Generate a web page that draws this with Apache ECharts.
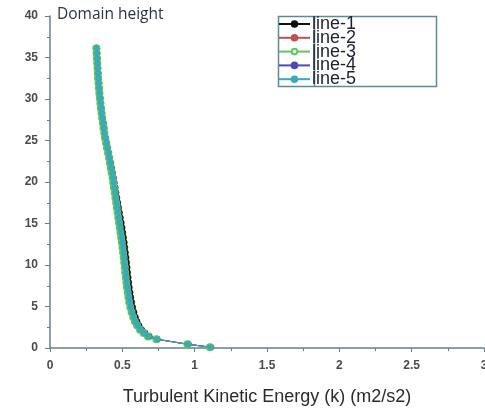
<!DOCTYPE html>
<html>
<head>
<meta charset="utf-8">
<script src="https://cdn.jsdelivr.net/npm/echarts@6/dist/echarts.min.js"></script>
<style>
html,body{margin:0;padding:0;background:#fff;}
#c{width:485px;height:408px;}
</style>
</head>
<body>
<div id="c"></div>
<script>
const seriesNames = ['line-1', 'line-2', 'line-3', 'line-4', 'line-5'];
const xTicks = ['0', '0.5', '1', '1.5', '2', '2.5', '3'];
const yTicks = ['0', '5', '10', '15', '20', '25', '30', '35', '40'];

const heights = [
  0.1, 0.45, 1.05, 1.4, 1.8, 2.2, 2.7, 3.2, 3.7, 4.3,
  4.9, 5.5, 6.1, 6.7, 7.3, 7.9, 8.5, 9.1, 9.7, 10.3,
  10.9, 11.5, 12.1, 12.7, 13.3, 13.9, 14.5, 15.1, 15.7, 16.3,
  16.9, 17.5, 18.1, 18.7, 19.3, 19.9, 20.5, 21.1, 21.7, 22.3,
  22.9, 23.5, 24.1, 24.7, 25.3, 25.9, 26.5, 27.1, 27.7, 28.3,
  28.9, 29.5, 30.1, 30.7, 31.3, 31.9, 32.5, 33.1, 33.7, 34.3,
  34.9, 35.5, 36.1
];

const line1 = [
  1.11, 0.955, 0.74, 0.685, 0.655, 0.632, 0.614, 0.600, 0.589, 0.579,
  0.570, 0.563, 0.557, 0.552, 0.547, 0.543, 0.539, 0.535, 0.532, 0.528,
  0.524, 0.520, 0.516, 0.512, 0.507, 0.502, 0.497, 0.491, 0.485, 0.479,
  0.473, 0.467, 0.461, 0.455, 0.449, 0.443, 0.437, 0.431, 0.425, 0.419,
  0.412, 0.405, 0.398, 0.391, 0.384, 0.378, 0.373, 0.368, 0.363, 0.358,
  0.354, 0.350, 0.346, 0.343, 0.340, 0.337, 0.334, 0.332, 0.330, 0.328,
  0.326, 0.324, 0.322
];
const line2 = [
  1.10, 0.952, 0.738, 0.679, 0.649, 0.624, 0.604, 0.589, 0.577, 0.566,
  0.557, 0.550, 0.544, 0.539, 0.534, 0.530, 0.526, 0.522, 0.519, 0.515,
  0.511, 0.507, 0.503, 0.499, 0.494, 0.489, 0.484, 0.479, 0.474, 0.469,
  0.464, 0.459, 0.454, 0.449, 0.444, 0.439, 0.434, 0.428, 0.422, 0.416,
  0.410, 0.403, 0.396, 0.389, 0.382, 0.376, 0.371, 0.366, 0.361, 0.357,
  0.353, 0.349, 0.345, 0.342, 0.339, 0.336, 0.333, 0.331, 0.329, 0.327,
  0.325, 0.323, 0.321
];
const line3 = [
  1.105, 0.950, 0.735, 0.677, 0.647, 0.622, 0.602, 0.587, 0.575, 0.564,
  0.555, 0.548, 0.542, 0.537, 0.532, 0.528, 0.524, 0.520, 0.517, 0.513,
  0.509, 0.505, 0.501, 0.497, 0.492, 0.487, 0.482, 0.477, 0.472, 0.467,
  0.462, 0.457, 0.452, 0.447, 0.442, 0.437, 0.432, 0.426, 0.420, 0.414,
  0.408, 0.401, 0.394, 0.387, 0.380, 0.375, 0.370, 0.365, 0.360, 0.356,
  0.352, 0.348, 0.344, 0.341, 0.338, 0.335, 0.332, 0.330, 0.328, 0.326,
  0.324, 0.322, 0.320
];
const line4 = [
  1.108, 0.953, 0.739, 0.680, 0.650, 0.625, 0.605, 0.590, 0.578, 0.567,
  0.558, 0.551, 0.545, 0.540, 0.535, 0.531, 0.527, 0.523, 0.520, 0.516,
  0.512, 0.508, 0.504, 0.500, 0.495, 0.490, 0.485, 0.480, 0.475, 0.470,
  0.465, 0.460, 0.455, 0.450, 0.445, 0.440, 0.435, 0.429, 0.423, 0.417,
  0.411, 0.404, 0.397, 0.390, 0.383, 0.377, 0.372, 0.367, 0.362, 0.358,
  0.354, 0.350, 0.346, 0.343, 0.340, 0.337, 0.334, 0.332, 0.330, 0.328,
  0.326, 0.324, 0.322
];
const line5 = [
  1.11, 0.955, 0.74, 0.68, 0.65, 0.625, 0.605, 0.59, 0.578, 0.567,
  0.558, 0.551, 0.545, 0.540, 0.535, 0.531, 0.527, 0.523, 0.520, 0.516,
  0.512, 0.508, 0.504, 0.500, 0.495, 0.490, 0.485, 0.480, 0.475, 0.470,
  0.465, 0.460, 0.455, 0.450, 0.445, 0.440, 0.435, 0.429, 0.423, 0.417,
  0.411, 0.404, 0.397, 0.390, 0.383, 0.377, 0.372, 0.367, 0.362, 0.358,
  0.354, 0.350, 0.346, 0.343, 0.340, 0.337, 0.334, 0.332, 0.330, 0.328,
  0.326, 0.324, 0.322
];

const seriesValues = [line1, line2, line3, line4, line5];
const seriesColors = ['#111111', '#c0504d', '#5cc95c', '#4a4ab8', '#3aabba'];
const seriesSymbols = ['circle', 'circle', 'emptyCircle', 'circle', 'circle'];
const seriesSymbolSizes = [6.5, 4.5, 6, 4.5, 5];

const axisColor = '#65808c';
const chart = echarts.init(document.getElementById('c'), null, {renderer: 'canvas'});

const series = seriesNames.map((name, i) => ({
  name: name,
  type: 'line',
  data: seriesValues[i].map((v, j) => [v, heights[j]]),
  symbol: seriesSymbols[i],
  symbolSize: seriesSymbolSizes[i],
  showAllSymbol: true,
  lineStyle: {color: seriesColors[i], width: 1},
  itemStyle: {color: seriesColors[i], borderColor: seriesColors[i], borderWidth: i === 2 ? 1.2 : 0.5},
  emphasis: {disabled: true},
  animation: false,
  z: 2 + i
}));

chart.setOption({
  animation: false,
  backgroundColor: '#ffffff',
  textStyle: {fontFamily: 'Liberation Sans, Arial, sans-serif'},
  grid: {left: 50, right: 1, top: 16, bottom: 60, containLabel: false, outerBoundsMode: 'none'},
  xAxis: {
    type: 'value',
    min: 0, max: 3, interval: 0.5,
    name: 'Turbulent Kinetic Energy (k) (m2/s2)',
    nameLocation: 'middle',
    nameGap: 40,
    nameTextStyle: {fontSize: 18, color: '#2b2b2b', fontFamily: 'Liberation Sans, Arial, sans-serif'},
    axisLine: {show: true, lineStyle: {color: axisColor, width: 1.5}},
    axisTick: {show: true, inside: false, length: 4, lineStyle: {color: axisColor}},
    minorTick: {show: true, splitNumber: 2, length: 3, lineStyle: {color: axisColor}},
    splitLine: {show: false},
    axisLabel: {
      fontSize: 12, fontWeight: 'bold', color: '#4a4a4a', margin: 12,
      formatter: v => xTicks[Math.round(v / 0.5)]
    }
  },
  yAxis: {
    type: 'value',
    min: 0, max: 40, interval: 5,
    axisLine: {show: true, lineStyle: {color: axisColor, width: 1.5}},
    axisTick: {show: true, inside: false, length: 5, lineStyle: {color: axisColor}},
    minorTick: {show: true, splitNumber: 2, length: 3, lineStyle: {color: axisColor}},
    splitLine: {show: false},
    axisLabel: {
      fontSize: 12, fontWeight: 'bold', color: '#4a4a4a', margin: 12,
      formatter: v => yTicks[Math.round(v / 5)]
    }
  },
  legend: {
    orient: 'vertical',
    left: 278,
    top: 15,
    padding: 0,
    itemGap: -4.2,
    itemWidth: 31,
    itemHeight: 7,
    data: seriesNames,
    selectedMode: false,
    textStyle: {fontSize: 18, color: '#1c2330', padding: [0, 0, 0, -3], fontFamily: 'Liberation Sans, Arial, sans-serif'}
  },
  graphic: [
    {type: 'rect', shape: {x: 278.5, y: 16.5, width: 158, height: 70}, style: {fill: 'none', stroke: '#5d8a99', lineWidth: 1.5}, z: 1},
    {type: 'line', shape: {x1: 314.5, y1: 17, x2: 314.5, y2: 86}, style: {stroke: '#5d8a99', lineWidth: 1.5}, z: 1},
    {type: 'text', left: 57, top: 7, style: {text: 'Domain height', fontSize: 15.5, fill: '#2b3340', fontFamily: 'Open Sans, sans-serif'}}
  ],
  series: series
});
</script>
</body>
</html>
